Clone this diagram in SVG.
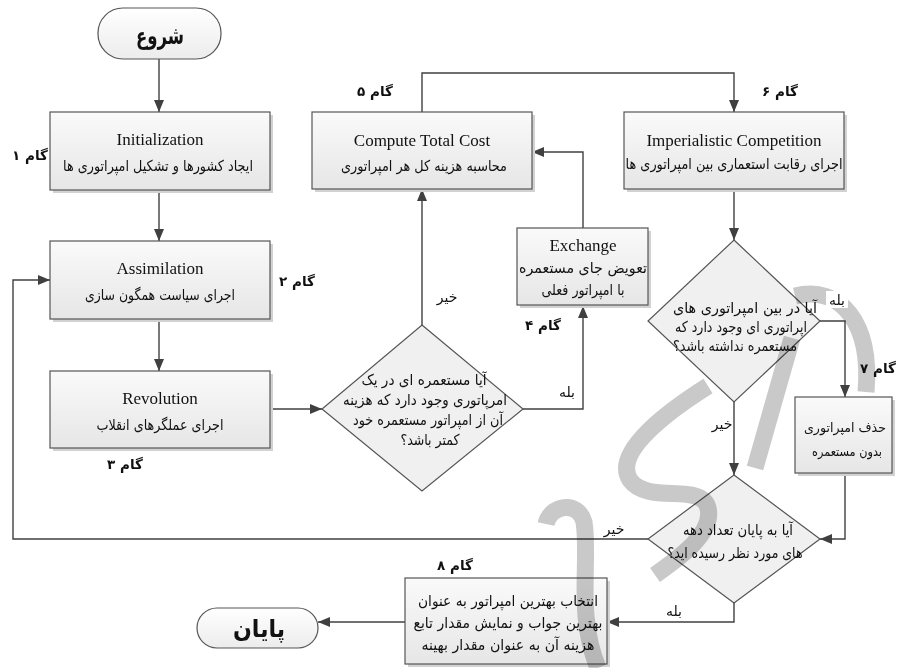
<svg xmlns="http://www.w3.org/2000/svg" width="897" height="668" viewBox="0 0 897 668">
<style>
.bx{fill:url(#g);stroke:#555;stroke-width:1.2}
.sh{fill:#d2d2d2}
.dm{fill:#f0f0f0;stroke:#555;stroke-width:1.2}
.cn{fill:none;stroke:#404040;stroke-width:1.4}
.en{font-family:"Liberation Serif",serif;font-size:17px;fill:#111;text-anchor:middle}
.fa{font-family:"DejaVu Sans",sans-serif;font-size:15px;fill:#111;text-anchor:middle}
.fs{font-family:"DejaVu Sans",sans-serif;font-size:13px;fill:#111;text-anchor:middle}
.st{font-family:"DejaVu Sans",sans-serif;font-size:13.5px;font-weight:bold;fill:#111;text-anchor:middle}
.lb{font-family:"DejaVu Sans",sans-serif;font-size:14px;fill:#111;text-anchor:middle}
.tt{font-family:"DejaVu Sans",sans-serif;font-size:24px;font-weight:bold;fill:#111;text-anchor:middle}
.wm{fill:none;stroke:#c9c9c9;stroke-width:17;stroke-linecap:butt}
</style>
<defs>
<linearGradient id="g" x1="0" y1="0" x2="0" y2="1"><stop offset="0" stop-color="#fafafa"/><stop offset="1" stop-color="#e6e6e6"/></linearGradient>
<linearGradient id="gt" x1="0" y1="0" x2="0" y2="1"><stop offset="0" stop-color="#ffffff"/><stop offset="1" stop-color="#ececec"/></linearGradient>
<marker id="ah" viewBox="0 0 12 10" refX="12" refY="5" markerWidth="12" markerHeight="10" markerUnits="userSpaceOnUse" orient="auto"><path d="M0,0 L12,5 L0,10 z" fill="#404040"/></marker>
</defs>

<g id="connectors">
<path class="cn" d="M159,59 V112" marker-end="url(#ah)"/>
<path class="cn" d="M159,190 V241" marker-end="url(#ah)"/>
<path class="cn" d="M159,319 V371" marker-end="url(#ah)"/>
<path class="cn" d="M270,409 H322" marker-end="url(#ah)"/>
<path class="cn" d="M422,325 V189" marker-end="url(#ah)"/>
<path class="cn" d="M523,409 H583 V306" marker-end="url(#ah)"/>
<path class="cn" d="M583,228 V152 H532" marker-end="url(#ah)"/>
<path class="cn" d="M422,112 V73 H734 V112" marker-end="url(#ah)"/>
<path class="cn" d="M734,189 V240" marker-end="url(#ah)"/>
<path class="cn" d="M820,321 H845 V397" marker-end="url(#ah)"/>
<path class="cn" d="M734,402 V475" marker-end="url(#ah)"/>
<path class="cn" d="M845,473 V539 H820" marker-end="url(#ah)"/>
<path class="cn" d="M648,539 H13 V280 H50" marker-end="url(#ah)"/>
<path class="cn" d="M734,603 V622 H607" marker-end="url(#ah)"/>
<path class="cn" d="M405,622 H318" marker-end="url(#ah)"/>
</g>

<g id="start">
<rect x="98" y="8" width="123" height="51" rx="25" ry="25" fill="url(#gt)" stroke="#555" stroke-width="1.2"/>
<text class="tt" x="160" y="44" textLength="48" lengthAdjust="spacingAndGlyphs">شروع</text>
</g>

<g id="step1">
<rect class="sh" x="53" y="115" width="220" height="78"/>
<rect class="bx" x="50" y="112" width="220" height="78"/>
<text class="en" x="160" y="145">Initialization</text>
<text class="fa" x="158" y="171" textLength="190" lengthAdjust="spacingAndGlyphs">ایجاد کشورها و تشکیل امپراتوری ها</text>
<text class="st" x="30" y="160">گام ۱</text>
</g>

<g id="step2">
<rect class="sh" x="53" y="244" width="220" height="78"/>
<rect class="bx" x="50" y="241" width="220" height="78"/>
<text class="en" x="160" y="274">Assimilation</text>
<text class="fa" x="160" y="300" textLength="150" lengthAdjust="spacingAndGlyphs">اجرای سیاست همگون سازی</text>
<text class="st" x="297" y="286">گام ۲</text>
</g>

<g id="step3">
<rect class="sh" x="53" y="374" width="220" height="77"/>
<rect class="bx" x="50" y="371" width="220" height="77"/>
<text class="en" x="160" y="404">Revolution</text>
<text class="fa" x="160" y="430" textLength="127" lengthAdjust="spacingAndGlyphs">اجرای عملگرهای انقلاب</text>
<text class="st" x="125" y="469">گام ۳</text>
</g>

<g id="decision1">
<path class="dm" d="M422,325 L523,409 L422,491 L322,409 z"/>
<text class="fa" x="424" y="385" textLength="125" lengthAdjust="spacingAndGlyphs">آیا مستعمره ای در یک</text>
<text class="fa" x="425" y="405" textLength="164" lengthAdjust="spacingAndGlyphs">امرپاتوری وجود دارد که هزینه</text>
<text class="fa" x="428" y="425" textLength="150" lengthAdjust="spacingAndGlyphs">آن از امپراتور مستعمره خود</text>
<text class="fa" x="430" y="445" textLength="59" lengthAdjust="spacingAndGlyphs">کمتر باشد؟</text>
</g>

<g id="step4">
<rect class="sh" x="520" y="231" width="131" height="77"/>
<rect class="bx" x="517" y="228" width="131" height="77"/>
<text class="en" x="583" y="251">Exchange</text>
<text class="fa" x="583" y="273" textLength="128" lengthAdjust="spacingAndGlyphs">تعویض جای مستعمره</text>
<text class="fa" x="583" y="295" textLength="83" lengthAdjust="spacingAndGlyphs">با امپراتور فعلی</text>
<text class="st" x="543" y="330">گام ۴</text>
</g>

<g id="step5">
<rect class="sh" x="315" y="115" width="220" height="77"/>
<rect class="bx" x="312" y="112" width="220" height="77"/>
<text class="en" x="422" y="146">Compute Total Cost</text>
<text class="fa" x="424" y="171" textLength="166" lengthAdjust="spacingAndGlyphs">محاسبه هزینه کل هر امپراتوری</text>
<text class="st" x="375" y="96">گام ۵</text>
</g>

<g id="step6">
<rect class="sh" x="627" y="115" width="220" height="77"/>
<rect class="bx" x="624" y="112" width="220" height="77"/>
<text class="en" x="734" y="146">Imperialistic Competition</text>
<text class="fa" x="734" y="169" textLength="217" lengthAdjust="spacingAndGlyphs">اجرای رقابت استعماری بین امپراتوری ها</text>
<text class="st" x="780" y="96">گام ۶</text>
</g>

<g id="decision2">
<path class="dm" d="M734,240 L820,321 L734,402 L648,321 z"/>
<text class="fa" x="745" y="313" textLength="144" lengthAdjust="spacingAndGlyphs">آیا در بین امپراتوری های</text>
<text class="fa" x="741" y="332" textLength="132" lengthAdjust="spacingAndGlyphs">اپراتوری ای وجود دارد که</text>
<text class="fa" x="735" y="351" textLength="124" lengthAdjust="spacingAndGlyphs">مستعمره نداشته باشد؟</text>
</g>

<g id="step7">
<rect class="sh" x="798" y="400" width="97" height="76"/>
<rect class="bx" x="795" y="397" width="97" height="76"/>
<text class="fs" x="845" y="432" textLength="82" lengthAdjust="spacingAndGlyphs">حذف امپراتوری</text>
<text class="fs" x="847" y="456" textLength="70" lengthAdjust="spacingAndGlyphs">بدون مستعمره</text>
<text class="st" x="878" y="373">گام ۷</text>
</g>

<g id="decision3">
<path class="dm" d="M734,475 L820,539 L734,603 L648,539 z"/>
<text class="fa" x="738" y="535" textLength="110" lengthAdjust="spacingAndGlyphs">آیا به پایان تعداد دهه</text>
<text class="fa" x="735" y="558" textLength="135" lengthAdjust="spacingAndGlyphs">های مورد نظر رسیده اید؟</text>
</g>

<g id="step8">
<rect class="sh" x="408" y="581" width="202" height="86"/>
<rect class="bx" x="405" y="578" width="202" height="86"/>
<text class="fa" x="508" y="606" textLength="180" lengthAdjust="spacingAndGlyphs">انتخاب بهترین امپراتور به عنوان</text>
<text class="fa" x="508" y="628" textLength="189" lengthAdjust="spacingAndGlyphs">بهترین جواب و نمایش مقدار تابع</text>
<text class="fa" x="508" y="650" textLength="173" lengthAdjust="spacingAndGlyphs">هزینه آن به عنوان مقدار بهینه</text>
<text class="st" x="455" y="570">گام ۸</text>
</g>

<g id="end">
<rect x="197" y="608" width="121" height="40" rx="20" ry="20" fill="url(#gt)" stroke="#555" stroke-width="1.2"/>
<text class="tt" x="259" y="637" textLength="52" lengthAdjust="spacingAndGlyphs">پایان</text>
</g>

<g id="watermark" style="mix-blend-mode:multiply">
<path class="wm" d="M795,296 C840,285 872,322 866,392"/>
<path class="wm" d="M792,338 L755,468"/>
<path class="wm" d="M708,386 C670,410 612,452 630,480 C648,505 702,482 708,508 C714,532 682,556 655,575"/>
<path class="wm" d="M546,524 C550,505 578,500 584,522 C590,560 576,615 598,668"/>
</g>

<g id="edge-labels">
<text class="lb" x="447" y="302">خیر</text>
<text class="lb" x="567" y="397">بله</text>
<rect x="826" y="291" width="22" height="17" fill="#fff"/>
<text class="lb" x="837" y="305">بله</text>
<rect x="712" y="415" width="20" height="18" fill="#fff"/>
<text class="lb" x="722" y="429">خیر</text>
<text class="lb" x="614" y="534">خیر</text>
<text class="lb" x="674" y="616">بله</text>
</g>
</svg>
